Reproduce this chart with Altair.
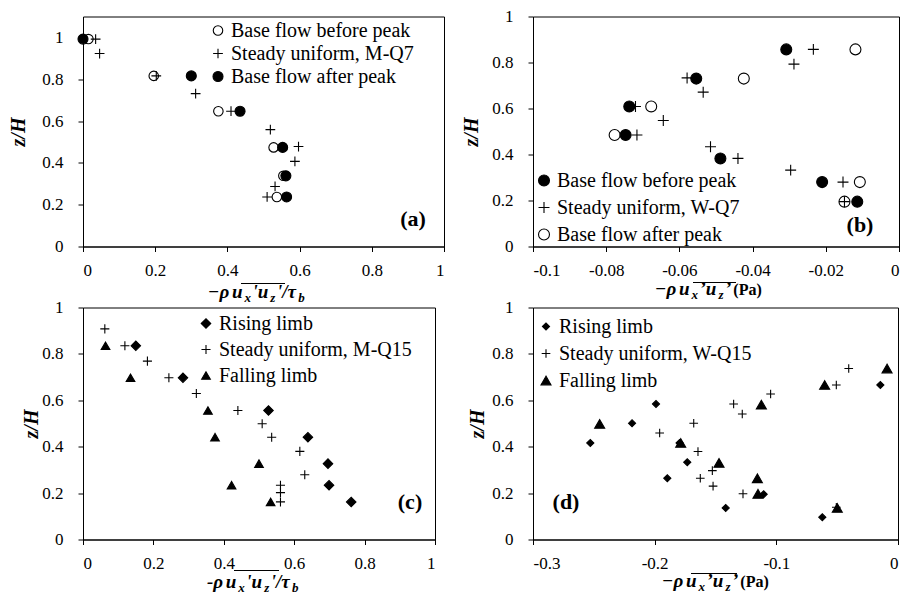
import altair as alt
import pandas as pd

SERIF = "Liberation Serif"
PLUS = "M-1,0L1,0M0,-1L0,1"

# ---------------- data ----------------
# (a) normalised Reynolds stress, M-Q7
a_before_x = [0.015, 0.196, 0.375, 0.528, 0.555, 0.537]
a_before_y = [0.992, 0.816, 0.647, 0.474, 0.338, 0.237]
a_steady_x = [0.035, 0.046, 0.203, 0.312, 0.41, 0.519, 0.597, 0.587, 0.532, 0.51]
a_steady_y = [0.992, 0.923, 0.816, 0.731, 0.647, 0.559, 0.478, 0.407, 0.287, 0.237]
a_after_x = [0.0, 0.30, 0.435, 0.553, 0.562, 0.564]
a_after_y = [0.992, 0.816, 0.647, 0.474, 0.338, 0.237]

# (b) Reynolds stress (Pa), W-Q7
b_before_x = [-0.0308, -0.0554, -0.0737, -0.0747, -0.0488, -0.0210, -0.0114]
b_before_y = [0.857, 0.730, 0.609, 0.485, 0.383, 0.280, 0.195]
b_steady_x = [-0.0234, -0.0287, -0.0579, -0.0535, -0.072, -0.0644, -0.0716,
              -0.0515, -0.044, -0.0296, -0.0153, -0.0149]
b_steady_y = [0.857, 0.793, 0.733, 0.671, 0.609, 0.548, 0.485, 0.434, 0.383,
              0.332, 0.280, 0.195]
b_after_x = [-0.0119, -0.0424, -0.0677, -0.0777, -0.0107, -0.0149]
b_after_y = [0.857, 0.730, 0.609, 0.485, 0.280, 0.195]

# (c) normalised Reynolds stress, M-Q15
c_rising_x = [0.150, 0.284, 0.527, 0.639, 0.696, 0.699, 0.762]
c_rising_y = [0.835, 0.697, 0.556, 0.441, 0.327, 0.234, 0.162]
c_steady_x = [0.062, 0.119, 0.183, 0.244, 0.322, 0.440, 0.509, 0.536, 0.616,
              0.630, 0.561, 0.561, 0.561]
c_steady_y = [0.908, 0.835, 0.769, 0.697, 0.629, 0.556, 0.499, 0.441, 0.380,
              0.279, 0.234, 0.202, 0.162]
c_falling_x = [0.064, 0.135, 0.355, 0.375, 0.5, 0.422, 0.533]
c_falling_y = [0.835, 0.697, 0.556, 0.441, 0.327, 0.234, 0.162]

# (d) Reynolds stress (Pa), W-Q15
d_rising_x = [-0.2529, -0.2186, -0.1989, -0.1896, -0.1732, -0.1795, -0.1416,
              -0.1104, -0.0622, -0.0145]
d_rising_y = [0.416, 0.501, 0.584, 0.264, 0.333, 0.416, 0.136, 0.195, 0.096, 0.666]
d_steady_x = [-0.1959, -0.1679, -0.1644, -0.1526, -0.1625, -0.152, -0.1274,
              -0.1351, -0.128, -0.1047, -0.0507, -0.0405, -0.0507]
d_steady_y = [0.459, 0.501, 0.379, 0.297, 0.264, 0.230, 0.197, 0.584, 0.541,
              0.627, 0.666, 0.737, 0.139]
d_falling_x = [-0.2452, -0.1786, -0.1471, -0.1156, -0.1151, -0.1123, -0.0603,
               -0.0499, -0.009]
d_falling_y = [0.498, 0.416, 0.330, 0.264, 0.197, 0.581, 0.666, 0.136, 0.737]

# ---------------- helpers ----------------
def make_df(series_list):
    rows = []
    for name, xs, ys in series_list:
        for x, y in zip(xs, ys):
            rows.append({"series": name, "x": x, "y": y})
    return pd.DataFrame(rows)


W_BI = {"−": 0.606, "-": 0.333, "ρ": 0.55, "u": 0.556, "x": 0.5, "z": 0.389,
        "'": 0.278, "’": 0.333, "/": 0.278, "τ": 0.46, "b": 0.5}
W_B = {"(": 0.333, "P": 0.611, "a": 0.5, ")": 0.333}
ONE = alt.Data(values=[{}])


def title_layers(segments, x0, base, overline):
    layers = []
    x = x0
    for text, kind in segments:
        if kind == "sub":
            size, dy, italic, gap = 13, 4, True, 1.5
        elif kind == "main":
            size, dy, italic, gap = 19, 0, True, 2.0
        else:
            size, dy, italic, gap = 16, 0, False, 1.5
        table = W_BI if italic else W_B
        w = sum(table.get(ch, 0.5) for ch in text) * size
        layers.append(
            alt.Chart(ONE).mark_text(
                text=text, align="left", baseline="alphabetic", font=SERIF,
                fontSize=size, fontStyle="italic" if italic else "normal",
                fontWeight="bold", color="black",
            ).encode(x=alt.value(x), y=alt.value(base + dy))
        )
        x += w + gap
    ox1, ox2, oy = overline
    layers.append(
        alt.Chart(ONE).mark_rule(color="black", strokeWidth=1.2).encode(
            x=alt.value(ox1), x2=alt.value(ox2), y=alt.value(oy))
    )
    return layers


def panel(df, order, shapes, fills, sizes, xdom, ydom, xvals, yvals, width,
          height, leg, ytitle_pad, tag, tag_xy, title_segs, title_x0,
          title_base, overline):
    axis_common = dict(labelFont=SERIF, labelFontSize=17, labelColor="black",
                       domainColor="black", tickColor="black", tickSize=5,
                       grid=False, labelExpr="'' + datum.value")
    legend = alt.Legend(
        orient="none", legendX=leg[0], legendY=leg[1], title=None,
        labelFont=SERIF, labelFontSize=20, labelColor="black", labelLimit=0,
        rowPadding=leg[2], labelOffset=3, padding=0,
        symbolStrokeColor="black", symbolStrokeWidth=1.1, symbolOpacity=1,
    )
    pts = alt.Chart(df).mark_point(opacity=1, stroke="black", strokeWidth=1.1).encode(
        x=alt.X("x:Q", scale=alt.Scale(domain=xdom, nice=False, zero=False),
                axis=alt.Axis(values=xvals, title=None, labelPadding=11,
                              **axis_common)),
        y=alt.Y("y:Q", scale=alt.Scale(domain=ydom, nice=False, zero=False),
                axis=alt.Axis(values=yvals, title="z/H", titleFont=SERIF,
                              titleFontSize=20, titleFontStyle="italic",
                              titleFontWeight="bold", titleColor="black",
                              titlePadding=ytitle_pad, labelPadding=15,
                              **axis_common)),
        shape=alt.Shape("series:N", scale=alt.Scale(domain=order, range=shapes),
                        legend=legend),
        fill=alt.Fill("series:N", scale=alt.Scale(domain=order, range=fills)),
        size=alt.Size("series:N", scale=alt.Scale(domain=order, range=sizes)),
    )
    lab = alt.Chart(ONE).mark_text(
        text=tag, font=SERIF, fontSize=22, fontWeight="bold", color="black",
        align="center", baseline="middle",
    ).encode(x=alt.value(tag_xy[0]), y=alt.value(tag_xy[1]))
    return alt.layer(pts, lab, *title_layers(title_segs, title_x0, title_base, overline)).properties(
        width=width, height=height)


# ---------------- panels ----------------
ord_a = ["Base flow before peak", "Steady uniform, M-Q7", "Base flow after peak"]
df_a = make_df([(ord_a[0], a_before_x, a_before_y),
                (ord_a[1], a_steady_x, a_steady_y),
                (ord_a[2], a_after_x, a_after_y)])
ord_b = ["Base flow before peak", "Steady uniform, W-Q7", "Base flow after peak"]
df_b = make_df([(ord_b[2], b_after_x, b_after_y),
                (ord_b[0], b_before_x, b_before_y),
                (ord_b[1], b_steady_x, b_steady_y)])
ord_c = ["Rising limb", "Steady uniform, M-Q15", "Falling limb"]
df_c = make_df([(ord_c[0], c_rising_x, c_rising_y),
                (ord_c[1], c_steady_x, c_steady_y),
                (ord_c[2], c_falling_x, c_falling_y)])
ord_d = ["Rising limb", "Steady uniform, W-Q15", "Falling limb"]
df_d = make_df([(ord_d[0], d_rising_x, d_rising_y),
                (ord_d[1], d_steady_x, d_steady_y),
                (ord_d[2], d_falling_x, d_falling_y)])

yv = [0, 0.2, 0.4, 0.6, 0.8, 1]
seg_norm = [("−ρ", "main"), ("u", "main"), ("x", "sub"), ("'u", "main"),
            ("z", "sub"), ("'/τ", "main"), ("b", "sub")]
seg_norm_c = [("-ρ", "main"), ("u", "main"), ("x", "sub"), ("'u", "main"),
              ("z", "sub"), ("'/τ", "main"), ("b", "sub")]
seg_pa = [("−ρ", "main"), ("u", "main"), ("x", "sub"), ("’u", "main"),
          ("z", "sub"), ("’", "main"), ("(Pa)", "up")]

pa = panel(df_a, ord_a, ["circle", PLUS, "circle"], ["white", "black", "black"],
           [90, 100, 100], [0, 1], [0, 1.1], [0, 0.2, 0.4, 0.6, 0.8, 1], yv,
           361, 230, (125, 4, 3), 13, "(a)", (330, 202), seg_norm, 125, 281,
           (158, 202, 267))
pb = panel(df_b, ord_b, ["circle", PLUS, "circle"], ["black", "black", "white"],
           [120, 120, 110], [-0.1, 0], [0, 1],
           [-0.1, -0.08, -0.06, -0.04, -0.02, 0], yv,
           366, 230, (1, 154, 7), 10, "(b)", (327, 208), seg_pa, 122, 278,
           (160, 203, 266))
pc = panel(df_c, ord_c, ["diamond", PLUS, "triangle-up"], ["black", "black", "black"],
           [90, 75, 70], [0, 1], [0, 1], [0, 0.2, 0.4, 0.6, 0.8, 1], yv,
           352, 232, (113, 6, 6), 0, "(c)", (327, 194), seg_norm_c, 124, 280,
           (151, 196, 263))
pd_ = panel(df_d, ord_d, ["diamond", PLUS, "triangle-up"], ["black", "black", "black"],
            [50, 100, 60], [-0.3, 0], [0, 1], [-0.3, -0.2, -0.1, 0], yv,
            365, 232, (3, 9, 7), 4, "(d)", (33, 194), seg_pa, 129, 279,
            (158, 204, 266))

chart = alt.concat(
    pa, pb, pc, pd_, columns=2, spacing={"row": 61, "column": 89}, bounds="flush"
).resolve_scale(
    shape="independent", fill="independent", size="independent"
).resolve_legend(
    shape="independent", fill="independent", size="independent"
).properties(
    padding={"left": 0, "top": -1.5, "right": 0, "bottom": 0}, background="white"
).configure_view(stroke="black", strokeWidth=1)

chart.save("out.html", embed_options={"renderer": "svg", "actions": False})
